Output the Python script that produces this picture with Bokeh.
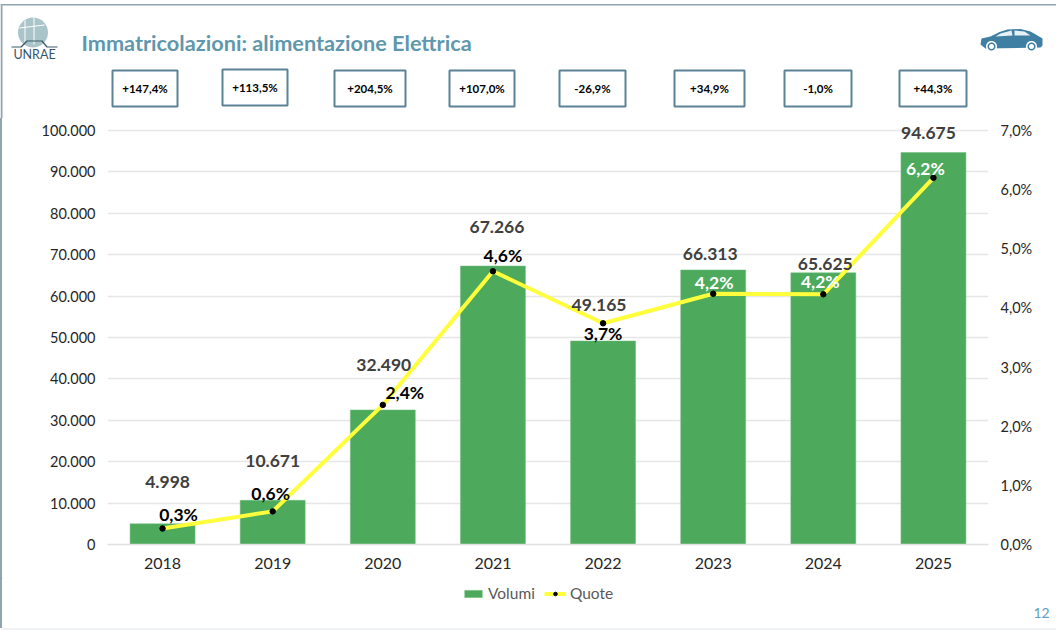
import math
from bokeh.plotting import figure
from bokeh.embed import file_html
from bokeh.resources import INLINE
from bokeh.core.properties import value
from bokeh.layouts import column, row
from bokeh.models import (ColumnDataSource, FactorRange, Range1d, LinearAxis, FixedTicker,
                          Legend, LegendItem, Spacer)

years = ["2018", "2019", "2020", "2021", "2022", "2023", "2024", "2025"]
volumi = [4998, 10671, 32490, 67266, 49165, 66313, 65625, 94675]
volumi_labels = ["4.998", "10.671", "32.490", "67.266", "49.165", "66.313", "65.625", "94.675"]
quote = [0.27, 0.56, 2.36, 4.62, 3.74, 4.24, 4.23, 6.20]
quote_labels = ["0,3%", "0,6%", "2,4%", "4,6%", "3,7%", "4,2%", "4,2%", "6,2%"]
growth_labels = ["+147,4%", "+113,5%", "+204,5%", "+107,0%", "-26,9%", "+34,9%", "-1,0%", "+44,3%"]
left_ticks = [0, 10000, 20000, 30000, 40000, 50000, 60000, 70000, 80000, 90000, 100000]
left_tick_labels = ["0", "10.000", "20.000", "30.000", "40.000", "50.000", "60.000", "70.000", "80.000", "90.000", "100.000"]
right_ticks = [0, 1, 2, 3, 4, 5, 6, 7]
right_tick_labels = ["0,0%", "1,0%", "2,0%", "3,0%", "4,0%", "5,0%", "6,0%", "7,0%"]

# styling
FONT = "Lato"
W, H = 1056, 632
HEAD_H, FOOT_H = 118, 54
MAIN_H = H - HEAD_H - FOOT_H
FRAME_PX = 426 / 414  # frame is a little taller than the 0..100.000 span, so the top label is not clipped
STRIP = "#8fa3b0"
BAR, BAR_EDGE, LINE_C = "#4daa5d", "#6fbd7d", "#ffff3c"
vol_dx = [5, 0, 1, 4, -4, -3, 2, -5]
vol_dy = [-42, -39, -45, -39, -36, -16, -9, -20]
quo_dx = [16, -2, 22, 10, 0, 1, -3, -8]
quo_dy = [-14, -18, -12, -16, 10, -11, -13, -9]
quo_col = ["#000000"] * 5 + ["#ffffff"] * 3
box_x = [(112, 177), (222, 287), (334, 405), (449, 514), (559, 625), (674, 744), (784, 851), (899, 966)]
box_y = [(70, 106), (69, 105), (70, 106), (70, 106), (70, 106), (70, 106), (70, 106), (70, 106)]

src = ColumnDataSource(dict(year=years, volumi=volumi, quote=quote, vl=volumi_labels, ql=quote_labels,
                            vdx=vol_dx, vdy=vol_dy, qdx=quo_dx, qdy=quo_dy, qc=quo_col))

# ---------- main chart
p = figure(width=W - 2, height=MAIN_H, output_backend="svg", toolbar_location=None,
           x_range=FactorRange(factors=years, range_padding=0, factor_padding=0),
           y_range=Range1d(0, 100000 * FRAME_PX),
           min_border_left=105, min_border_right=68, min_border_top=0, min_border_bottom=34,
           background_fill_color="white", border_fill_color="white", outline_line_color=None)
p.extra_y_ranges = {"quote": Range1d(0, 7 * FRAME_PX)}

p.xgrid.visible = False
p.ygrid.grid_line_color = "#e6e6e6"
p.ygrid.grid_line_width = 1.3
p.ygrid.ticker = FixedTicker(ticks=left_ticks)

yax = p.yaxis[0]
yax.ticker = FixedTicker(ticks=left_ticks)
yax.major_label_overrides = {t: s for t, s in zip(left_ticks, left_tick_labels)}
raxis = LinearAxis(y_range_name="quote", ticker=FixedTicker(ticks=right_ticks),
                   major_label_overrides={t: s for t, s in zip(right_ticks, right_tick_labels)})
p.add_layout(raxis, "right")
for ax in (yax, raxis, p.xaxis[0]):
    ax.axis_line_color = None
    ax.major_tick_line_color = None
    ax.minor_tick_line_color = None
    ax.major_tick_out = 0
    ax.major_tick_in = 0
    ax.minor_tick_out = 0
    ax.major_label_text_font = FONT
    ax.major_label_text_color = "#262626"
    ax.major_label_text_font_size = "14.5px"
yax.major_label_standoff = 12
raxis.major_label_standoff = 12
p.xaxis[0].major_label_standoff = 13
p.xaxis[0].major_label_text_font_size = "16px"
p.xaxis[0].axis_line_color = "#e0e0e0"
p.xaxis[0].axis_line_width = 1.3

p.vbar(x="year", top="volumi", width=0.59, source=src, fill_color=BAR, line_color=BAR_EDGE, line_width=0.5)
p.line(x="year", y="quote", source=src, y_range_name="quote", line_color=LINE_C, line_width=4)
p.scatter(x="year", y="quote", source=src, y_range_name="quote", size=5.5, fill_color="black", line_color="black")

p.text(x="year", y="volumi", text="vl", source=src, x_offset="vdx", y_offset="vdy",
       text_font=value(FONT), text_font_style="bold", text_font_size="17.5px", text_color="#404040",
       text_align="center", text_baseline="middle")
p.text(x="year", y="quote", text="ql", source=src, y_range_name="quote", x_offset="qdx", y_offset="qdy",
       text_font=value(FONT), text_font_style="bold", text_font_size="17.5px", text_color="qc",
       text_align="center", text_baseline="middle")


# ---------- header and footer: plain pixel-sized panels
def panel(x_left, h, y_top):
    f = figure(width=W - x_left, height=h, output_backend="svg", toolbar_location=None,
               x_range=Range1d(x_left, W), y_range=Range1d(y_top + h, y_top), min_border=0,
               x_axis_location=None, y_axis_location=None, outline_line_color=None,
               background_fill_color="white", border_fill_color="white")
    f.grid.visible = False
    return f


def label(f, x, y, text, size, color="#000000", style="normal", align="center"):
    f.text(x=[x], y=[y], text=[text], text_font=value(FONT), text_font_size=size, text_color=color,
           text_font_style=style, text_align=align, text_baseline="middle")


def poly(f, pts, fill):
    f.patch([a for a, _ in pts], [b for _, b in pts], fill_color=fill, line_color=None)


def circle(f, cx, cy, r, fill):
    n = 40
    poly(f, [(cx + r * math.cos(2 * math.pi * i / n), cy + r * math.sin(2 * math.pi * i / n)) for i in range(n)], fill)


head = panel(0, HEAD_H, 0)
foot = panel(2, FOOT_H, H - FOOT_H)

# legend keys: the footer panel holds the legend, the real marks are in the chart above,
# so these key glyphs sit outside the panel's visible range
off = ColumnDataSource(dict(x=[-60, -40], y=[-60, -60], b=[-80, -80]))
key_bar = foot.vbar(x="x", top="y", bottom="b", width=10, source=off, fill_color=BAR, line_color=BAR_EDGE, line_width=0.5)
key_line = foot.line(x="x", y="y", source=off, line_color=LINE_C, line_width=4)
key_dot = foot.scatter(x="x", y="y", source=off, size=5.5, fill_color="black", line_color="black")
legend = Legend(items=[LegendItem(label="Volumi", renderers=[key_bar]), LegendItem(label="Quote", renderers=[key_line, key_dot])],
                orientation="horizontal", location=(460, 30), background_fill_alpha=0, border_line_color=None,
                label_text_font=FONT, label_text_font_size="15.5px", label_text_color="#595959",
                glyph_width=22, glyph_height=9, spacing=9, label_standoff=4, padding=2, margin=0)
foot.add_layout(legend, "center")

poly(head, [(0, 3.5), (W, 3.5), (W, 5), (0, 5)], STRIP)
poly(head, [(0, 4), (2, 4), (2, HEAD_H), (0, HEAD_H)], STRIP)
foot.quad(left=[2], right=[W], top=[628], bottom=[629], fill_color="#dfe6ea", line_color=None)

for (x0, x1), (y0, y1), s in zip(box_x, box_y, growth_labels):
    head.quad(left=[x0], right=[x1], top=[y0], bottom=[y1], fill_color="white", line_color="#5b8296", line_width=2)
    label(head, (x0 + x1) / 2, (y0 + y1) / 2, s, "11.5px", style="bold")

label(head, 81, 42, "Immatricolazioni: alimentazione Elettrica", "21.7px", "#5f97ad", "bold", "left")
label(foot, 1041, 612, "12", "14px", "#5f9fc0")

# logo
circle(head, 32.5, 32, 15, "#a9c5c9")
poly(head, [(24, 20), (25, 20), (25, 42), (24, 42)], "white")
poly(head, [(33, 17), (34, 17), (34, 44), (33, 44)], "white")
poly(head, [(19, 27), (44, 24), (44, 25), (19, 28)], "white")
poly(head, [(11, 46), (20, 46), (26, 40), (42, 40), (47, 46), (57, 46), (57, 47), (46, 47), (41, 41), (27, 41), (21, 47), (11, 47)], "#3d5c6b")
label(head, 34, 54, "UNRAE", "12.5px", "#35566a")

# car
poly(head, [(980, 44), (981, 38), (990, 36), (999, 31.5), (1007, 29), (1020, 28.5), (1030, 31), (1037, 35), (1042, 38), (1042, 45),
            (1040, 47), (985, 48)], "#3f7fa3")
poly(head, [(1000, 33), (1011, 30), (1012, 35), (995, 36)], "#e6f0f5")
poly(head, [(1014, 30), (1024, 31), (1030, 35), (1014, 35)], "#e6f0f5")
for cx in (991, 1031):
    circle(head, cx, 46, 5.5, "white")
    circle(head, cx, 46, 4, "#3f7fa3")
    circle(head, cx, 46, 2.5, "white")

strip_main = Spacer(width=2, height=MAIN_H, styles={"background-color": STRIP})
strip_foot = Spacer(width=2, height=FOOT_H - 4, styles={"background-color": STRIP})
page = column(head, row(strip_main, p), row(strip_foot, foot))
open("out.html", "w").write(file_html(page, INLINE))
